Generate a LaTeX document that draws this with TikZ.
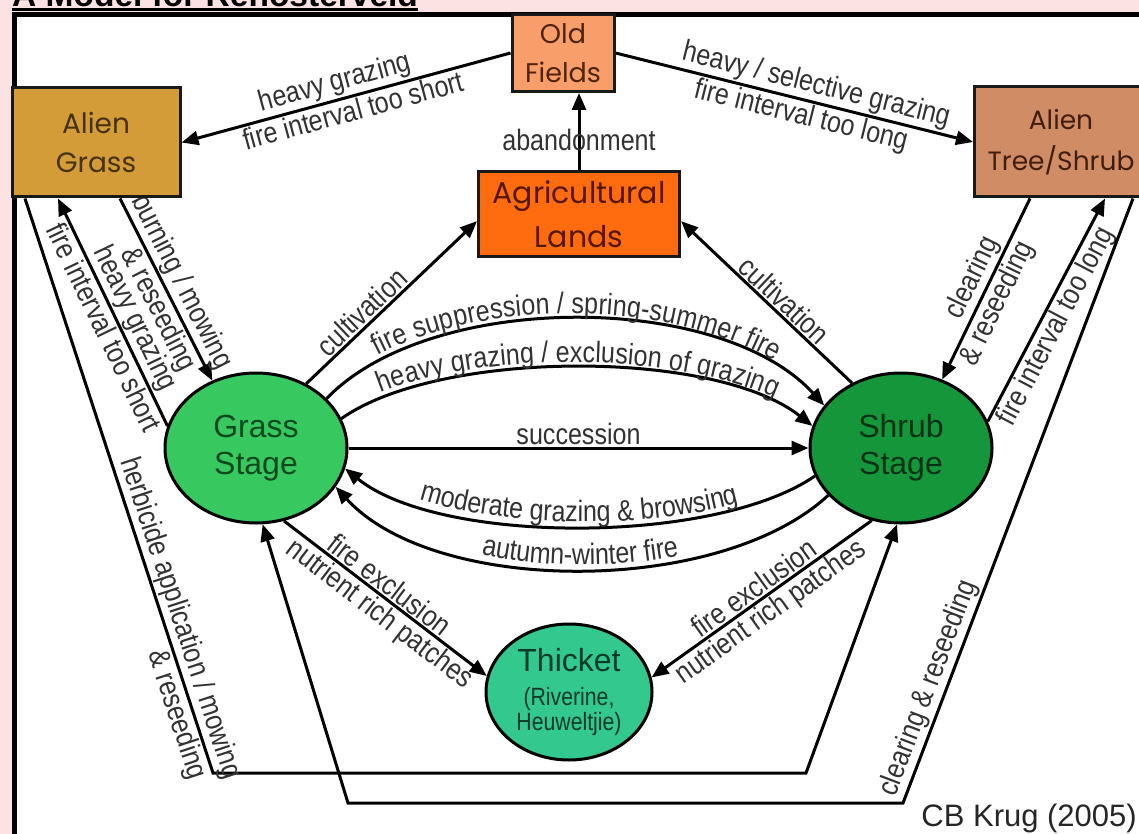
\documentclass[tikz,border=0pt]{standalone}
\usepackage{fontspec}
\setmainfont{Liberation Sans}
\newfontfamily\lblfont[FakeStretch=0.85]{Liberation Sans}
\newfontfamily\boxfont{Poppins}
\usetikzlibrary{arrows.meta,shapes.geometric,decorations.text}
\pgfdeclarelayer{back}
\pgfdeclarelayer{edges}
\pgfsetlayers{back,edges,main}
\definecolor{pinkbg}{RGB}{253,226,228}
\definecolor{oldfill}{RGB}{248,158,106}
\definecolor{oldtxt}{RGB}{80,36,14}
\definecolor{agrifill}{RGB}{255,108,16}
\definecolor{agritxt}{RGB}{86,22,0}
\definecolor{agrassfill}{RGB}{212,156,56}
\definecolor{agrasstxt}{RGB}{70,50,14}
\definecolor{atreefill}{RGB}{208,140,100}
\definecolor{atreetxt}{RGB}{66,30,14}
\definecolor{grassfill}{RGB}{56,200,96}
\definecolor{grasstxt}{RGB}{12,74,30}
\definecolor{shrubfill}{RGB}{22,150,58}
\definecolor{shrubtxt}{RGB}{5,50,22}
\definecolor{thickfill}{RGB}{50,200,142}
\definecolor{thicktxt}{RGB}{12,58,40}
\definecolor{lbl}{RGB}{50,50,50}
\newcommand\lblsize{\fontsize{29.5}{31}\selectfont}
\begin{document}
\begin{tikzpicture}[x=1pt,y=-1pt,
  boxnode/.style={rectangle, draw=black!90, line width=3pt, inner sep=0pt, align=center},
  stagenode/.style={ellipse, draw=black, line width=3pt, inner sep=0pt, align=center},
  conn/.style={line width=3pt, -{Triangle[length=17pt,width=14pt]}},
  lab/.style={font=\lblfont\lblsize, text=lbl, inner sep=1.5pt},
]
\useasboundingbox (0,0) rectangle (1139,834);
\clip (0,0) rectangle (1139,834);

\begin{pgfonlayer}{back}
\fill[pinkbg] (0,0) rectangle (1139,834);
\draw[line width=5pt, fill=white] (14,14.5) rectangle (1170,870);
\end{pgfonlayer}

% title
\node[anchor=base west, inner sep=0pt, font=\bfseries\fontsize{33.5}{36}\selectfont] (title) at (12,6.5) {A Model for Renosterveld};
\fill ([yshift=-1.5pt]title.base west) rectangle ([yshift=-5pt]title.base east);

% boxes
\node[boxnode, fill=oldfill, text=oldtxt, minimum width=102pt, minimum height=77pt,
  font=\boxfont\fontsize{27}{39}\selectfont] (oldf) at (563,53) {Old\\Fields};
\node[boxnode, fill=agrifill, text=agritxt, minimum width=201pt, minimum height=84pt,
  font=\boxfont\fontsize{30}{44}\selectfont] (agri) at (579,214) {Agricultural\\Lands};
\node[boxnode, fill=agrassfill, text=agrasstxt, minimum width=168pt, minimum height=109pt,
  font=\boxfont\fontsize{28}{39}\selectfont] (agrass) at (96,142.5) {Alien\\Grass};
\node[boxnode, fill=atreefill, text=atreetxt, minimum width=173pt, minimum height=110pt,
  font=\boxfont\fontsize{26.5}{41}\selectfont] (atree) at (1061,142) {Alien\\Tree/Shrub};

% stages
\node[stagenode, fill=grassfill, text=grasstxt, minimum width=182pt, minimum height=150pt,
  font=\fontsize{32}{37}\selectfont] (grass) at (256,448) {Grass\\Stage};
\node[stagenode, fill=shrubfill, text=shrubtxt, minimum width=182pt, minimum height=150pt,
  font=\fontsize{32}{37}\selectfont] (shrub) at (901,448) {Shrub\\Stage};
\node[stagenode, fill=thickfill, text=thicktxt, minimum width=166pt, minimum height=136pt,
  font=\lblfont\fontsize{25}{23}\selectfont] (thicket) at (569,692)
  {{\normalfont\fontsize{32}{34}\selectfont Thicket}\\[11pt](Riverine,\\Heuweltjie)};

\node[anchor=base east, inner sep=0pt, font=\fontsize{31}{34}\selectfont, text=black!85] (credit) at (1137,826) {CB Krug (2005)};

\coordinate (hb1) at (213,773);
\coordinate (hb2) at (806,773);
\coordinate (cr1) at (903,803);
\coordinate (cr2) at (348,803);

\begin{pgfonlayer}{edges}
% old fields links
\draw[conn] (oldf.west) -- (agrass.east)
  node[lab, pos=0.52, sloped, above] {heavy grazing}
  node[lab, pos=0.49, sloped, below] {fire interval too short};
\draw[conn] (oldf.east) -- (atree.west)
  node[lab, pos=0.55, sloped, above] {heavy / selective grazing}
  node[lab, pos=0.53, sloped, below] {fire interval too long};
\draw[conn] (agri.north) -- (agri.north |- oldf.south)
  node[lab, pos=0.4] {abandonment};
% cultivation
\draw[conn] (grass.52) -- (agri.184)
  node[lab, pos=0.38, sloped, above] {cultivation};
\draw[conn] (shrub.127) -- (agri.-4)
  node[lab, pos=0.45, sloped, above] {cultivation};
% grass <-> shrub
\draw[conn] (grass.35) .. controls (430,291) and (720,291) .. (shrub.151);
\path[decorate, decoration={text along path, text align=center, raise=5pt,
  text={|\lblfont\lblsize\color{lbl}|fire suppression / spring-summer fire}}]
  (grass.35) .. controls (430,291) and (720,291) .. (shrub.151);
\draw[conn] (grass.19) .. controls (440,349) and (715,349) .. (shrub.166);
\path[decorate, decoration={text along path, text align=center, raise=5pt,
  text={|\lblfont\lblsize\color{lbl}|heavy grazing / exclusion of grazing}}]
  (grass.19) .. controls (440,349) and (715,349) .. (shrub.166);
\draw[conn] (grass.east) -- (shrub.west) node[lab, midway, above] {succession};
\draw[conn] (shrub.198) .. controls (715,545) and (440,545) .. (grass.-13);
\path[decorate, decoration={text along path, text align=center, raise=5pt,
  text={|\lblfont\lblsize\color{lbl}|moderate grazing {\&} browsing}}]
  (grass.-13) .. controls (440,545) and (715,545) .. (shrub.198);
\draw[conn] (shrub.213) .. controls (720,596) and (435,596) .. (grass.-26);
\path[decorate, decoration={text along path, text align=center, raise=5pt,
  text={|\lblfont\lblsize\color{lbl}|autumn-winter fire}}]
  (grass.-26) .. controls (435,596) and (720,596) .. (shrub.213);
% thicket
\draw[conn] (grass.-69) -- (thicket.169)
  node[lab, pos=0.48, sloped, above] {fire exclusion}
  node[lab, pos=0.52, sloped, below] {nutrient rich patches};
\draw[conn] (shrub.-112) -- (thicket.10)
  node[lab, pos=0.5, sloped, above] {fire exclusion}
  node[lab, pos=0.5, sloped, below] {nutrient rich patches};
% alien grass links
\draw[conn] (agrass.south -| 120,0) -- (grass.123)
  node[lab, pos=0.5, sloped, above] {burning / mowing}
  node[lab, pos=0.57, sloped, below] {\& reseeding};
\draw[conn] (grass.166) -- (agrass.south -| 58,0)
  node[lab, pos=0.44, sloped, above] {heavy grazing}
  node[lab, pos=0.46, sloped, below] {fire interval too short};
\draw[conn] (agrass.south -| 25,0)
  -- node[lab, pos=0.74, sloped, above] {herbicide application / mowing}
     node[lab, pos=0.89, sloped, below] {\& reseeding} (hb1)
  -- (hb2) -- (shrub.-93);
% alien tree links
\draw[conn] (atree.south -| 1030,0) -- (shrub.59)
  node[lab, pos=0.48, sloped, above] {clearing}
  node[lab, pos=0.54, sloped, below] {\& reseeding};
\draw[conn] (shrub.17) -- (atree.south -| 1105,0)
  node[lab, pos=0.46, sloped, below] {fire interval too long};
\draw[conn] (atree.south -| 1133,0)
  -- node[lab, pos=0.82, sloped, above] {clearing \& reseeding} (cr1)
  -- (cr2) -- (grass.-85);
\end{pgfonlayer}
\end{tikzpicture}
\end{document}
